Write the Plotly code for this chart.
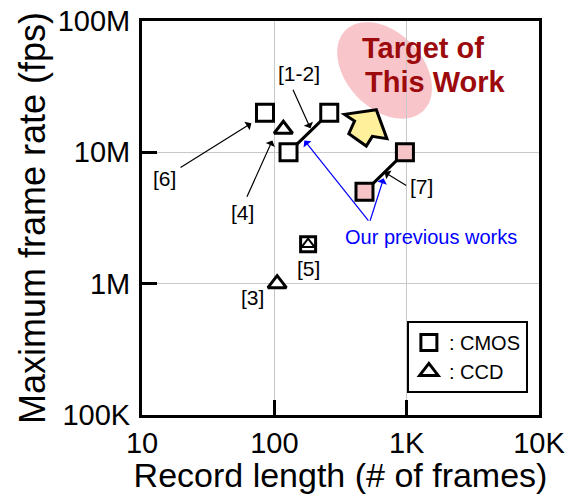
import numpy as np
import plotly.graph_objects as go

# ---- data: record length (frames) vs. maximum frame rate (fps) ----
cmos_length = [85, 128, 260]          # [6], [1], [2]
cmos_fps = [20e6, 10e6, 20e6]
pair12_length = [128, 260]            # [1-2] linked pair
pair12_fps = [10e6, 20e6]
ours_length = [480, 970]              # [7] previous works
ours_fps = [5e6, 10e6]
ccd_length = [117, 105]               # [4], [3]
ccd_fps = [15e6, 1e6]
ref5_length = [180]                   # [5] CMOS + CCD hybrid
ref5_fps = [2e6]

x_tickvals = [10, 100, 1000, 10000]
x_ticktext = ["10", "100", "1K", "10K"]
y_tickvals = [1e5, 1e6, 1e7, 1e8]
y_ticktext = ["100K", "1M", "10M", "100M"]

FONT = "Liberation Sans, Arial, sans-serif"

fig = go.Figure()

line_style = dict(color="black", width=3)
fig.add_trace(go.Scatter(x=pair12_length, y=pair12_fps, mode="lines",
                         line=line_style, showlegend=False, hoverinfo="skip"))
fig.add_trace(go.Scatter(x=ours_length, y=ours_fps, mode="lines",
                         line=line_style, showlegend=False, hoverinfo="skip"))

fig.add_trace(go.Scatter(
    x=cmos_length, y=cmos_fps, mode="markers", name=": CMOS",
    marker=dict(symbol="square", size=17, color="white",
                line=dict(color="black", width=3))))
fig.add_trace(go.Scatter(
    x=ours_length, y=ours_fps, mode="markers", showlegend=False,
    marker=dict(symbol="square", size=17, color="#F6C4C7",
                line=dict(color="black", width=3))))
fig.add_trace(go.Scatter(
    x=ccd_length, y=ccd_fps, mode="markers", name=": CCD",
    marker=dict(symbol="triangle-up", size=16, color="white",
                line=dict(color="black", width=3))))
fig.add_trace(go.Scatter(
    x=ref5_length, y=ref5_fps, mode="markers", showlegend=False,
    marker=dict(symbol="square", size=15, color="white",
                line=dict(color="black", width=3))))
fig.add_trace(go.Scatter(
    x=ref5_length, y=ref5_fps, mode="markers", showlegend=False,
    marker=dict(symbol="triangle-up", size=11, color="white",
                line=dict(color="black", width=2))))

# ---- decorations (positions in log10 units of the axes) ----
# target region: tilted ellipse
cx, cy, a, b, theta = 2.833, 7.624, 0.425, 0.288, np.deg2rad(-47)
t = np.linspace(0, 2 * np.pi, 73)
ex = cx + a * np.cos(t) * np.cos(theta) - b * np.sin(t) * np.sin(theta)
ey = cy + a * np.cos(t) * np.sin(theta) + b * np.sin(t) * np.cos(theta)
ell_path = "M " + " L ".join(f"{10**u:.6g},{10**v:.6g}" for u, v in zip(ex, ey)) + " Z"

# fat arrow pointing toward the target
arrow_pts = [(2.7705, 7.3247), (2.5303, 7.2890), (2.6061, 7.2380), (2.5629, 7.1422),
             (2.6947, 7.0479), (2.7402, 7.1217), (2.8508, 7.1042)]
arr_path = "M " + " L ".join(f"{10**u:.6g},{10**v:.6g}" for u, v in arrow_pts) + " Z"

fig.update_layout(shapes=[
    dict(type="path", path=ell_path, xref="x", yref="y", layer="below",
         fillcolor="#F8C6CA", line=dict(width=0)),
    dict(type="path", path=arr_path, xref="x", yref="y", layer="above",
         fillcolor="#FFF09C", line=dict(color="black", width=3)),
])

annotations = []
# reference labels
for txt, lx, ly in [("[6]", 1.167, 6.802), ("[4]", 1.758, 6.544), ("[1-2]", 2.189, 7.601),
                    ("[7]", 3.114, 6.741), ("[5]", 2.258, 6.118), ("[3]", 1.833, 5.897)]:
    annotations.append(dict(x=lx, y=ly, xref="x", yref="y", text=txt, showarrow=False,
                            font=dict(family=FONT, size=21, color="black")))
# black pointer arrows (head, tail)
for hx, hy, tx, ty in [(1.826, 7.221, 1.280, 6.878), (1.985, 7.091, 1.788, 6.650),
                       (2.273, 7.183, 2.136, 7.487), (2.833, 6.848, 3.008, 6.741)]:
    annotations.append(dict(x=hx, y=hy, ax=tx, ay=ty, xref="x", yref="y", axref="x", ayref="y",
                            text="", showarrow=True, arrowhead=1, arrowsize=1.4,
                            arrowwidth=1.2, arrowcolor="black"))
# blue arrows for previous works
for hx, hy in [(2.227, 7.091), (2.826, 6.802)]:
    annotations.append(dict(x=hx, y=hy, ax=2.720, ay=6.468, xref="x", yref="y", axref="x", ayref="y",
                            text="", showarrow=True, arrowhead=1, arrowsize=1.4,
                            arrowwidth=1.2, arrowcolor="#0000FF"))
annotations.append(dict(x=3.182, y=6.354, xref="x", yref="y", text="Our previous works",
                        showarrow=False, font=dict(family=FONT, size=20, color="#0000FF")))
# target caption, one annotation per line
for txt, lx, ly in [("<b>Target of</b>", 2.650, 7.791), ("<b>This Work</b>", 2.672, 7.532)]:
    annotations.append(dict(x=lx, y=ly, xref="x", yref="y", text=txt, showarrow=False,
                            xanchor="left", font=dict(family=FONT, size=29, color="#9C0A0E")))
fig.update_layout(annotations=annotations)

axis_common = dict(type="log", showline=True, linecolor="black", linewidth=3, mirror=True,
                   ticks="inside", ticklen=15, tickwidth=3, tickcolor="black",
                   showgrid=True, gridcolor="#C8C8C8", gridwidth=1, zeroline=False,
                   tickfont=dict(family=FONT, size=29, color="black"),
                   automargin=False)

fig.update_xaxes(range=[1, 4], tickvals=x_tickvals, ticktext=x_ticktext,
                 title_text="Record length (# of frames)", title_standoff=0,
                 title_font=dict(family=FONT, size=34, color="black"), **axis_common)
fig.update_yaxes(range=[5, 8], tickvals=y_tickvals, ticktext=y_ticktext,
                 ticklabelstandoff=3,
                 title_text="Maximum frame rate (fps)", title_standoff=2,
                 title_font=dict(family=FONT, size=36, color="black"), **axis_common)

fig.update_layout(
    width=574, height=494,
    margin=dict(l=142, r=35, t=21, b=79),
    paper_bgcolor="white", plot_bgcolor="white",
    font=dict(family=FONT, color="black"),
    legend=dict(x=0.972, y=0.056, xanchor="right", yanchor="bottom",
                bgcolor="white", bordercolor="black", borderwidth=2,
                font=dict(family=FONT, size=20, color="black"),
                traceorder="normal", itemsizing="trace", tracegroupgap=0),
)

fig.write_html("out.html")
